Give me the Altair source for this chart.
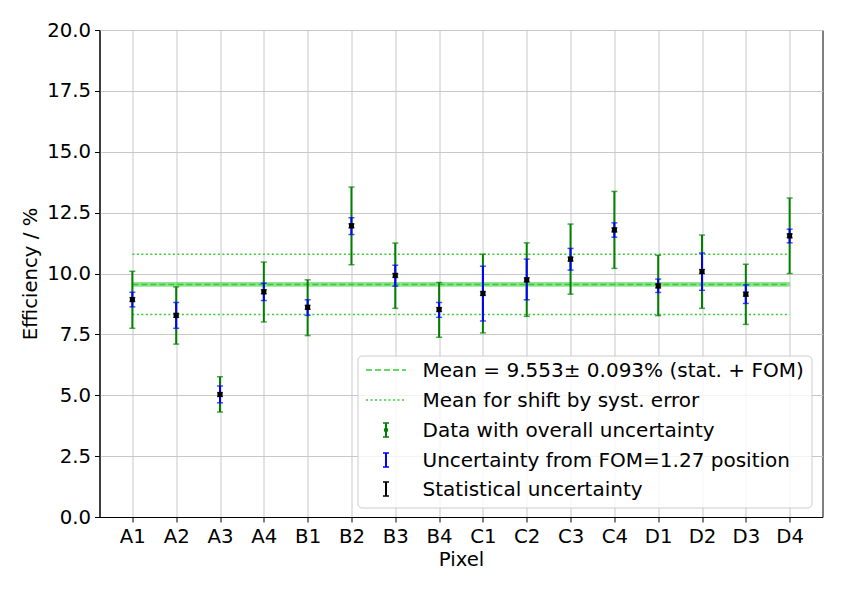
import altair as alt
import pandas as pd

pixels = ["A1", "A2", "A3", "A4", "B1", "B2", "B3", "B4",
          "C1", "C2", "C3", "C4", "D1", "D2", "D3", "D4"]
eff = [8.93, 8.28, 5.03, 9.25, 8.61, 11.96, 9.92, 8.52,
       9.18, 9.74, 10.59, 11.79, 9.49, 10.08, 9.15, 11.55]
tot_lo = [7.75, 7.10, 4.31, 8.01, 7.45, 10.36, 8.57, 7.38,
          7.56, 8.24, 9.15, 10.21, 8.27, 8.57, 7.91, 10.00]
tot_hi = [10.09, 9.45, 5.76, 10.47, 9.74, 13.55, 11.25, 9.63,
          10.79, 11.26, 12.03, 13.37, 10.75, 11.58, 10.38, 13.10]
fom_lo = [8.63, 7.75, 4.69, 8.89, 8.28, 11.60, 9.48, 8.20,
          8.05, 8.92, 10.14, 11.49, 9.22, 9.31, 8.77, 11.26]
fom_hi = [9.23, 8.81, 5.38, 9.60, 8.92, 12.29, 10.34, 8.81,
          10.30, 10.59, 11.03, 12.08, 9.77, 10.84, 9.53, 11.82]
stat_err = [0.08, 0.08, 0.08, 0.08, 0.08, 0.08, 0.08, 0.08,
            0.08, 0.08, 0.08, 0.08, 0.08, 0.08, 0.08, 0.08]

mean_val = 9.553
mean_err = 0.093
syst_hi = 10.79
syst_lo = 8.32

legend_labels = [
    "Mean = 9.553\u00b1 0.093% (stat. + FOM)",
    "Mean for shift by syst. error",
    "Data with overall uncertainty",
    "Uncertainty from FOM=1.27 position",
    "Statistical uncertainty",
]

FONT = "DejaVu Sans"
FS = 19.7
LFS = 20
LIME = "#33cc33"

df = pd.DataFrame({
    "i": list(range(len(pixels))),
    "pixel": pixels,
    "eff": eff,
    "tot_lo": tot_lo,
    "tot_hi": tot_hi,
    "fom_lo": fom_lo,
    "fom_hi": fom_hi,
    "stat_err": stat_err,
})
df["st_lo"] = df["eff"] - df["stat_err"]
df["st_hi"] = df["eff"] + df["stat_err"]

n = len(pixels)
lines = pd.DataFrame({
    "x0": [0, 0, 0],
    "x1": [n - 1, n - 1, n - 1],
    "y": [mean_val, syst_hi, syst_lo],
    "kind": ["mean", "syst", "syst"],
})
band = pd.DataFrame({"x0": [0], "x1": [n - 1],
                     "lo": [mean_val - mean_err], "hi": [mean_val + mean_err]})

label_arr = "[" + ",".join("'" + p + "'" for p in pixels) + "]"
xscale = alt.Scale(domain=[-0.75, n - 0.25], nice=False, zero=False)
yscale = alt.Scale(domain=[0, 20], nice=False)
xax = alt.Axis(values=list(range(n)), labelExpr=label_arr + "[datum.value]",
               title="Pixel", grid=True)
yax = alt.Axis(values=[0, 2.5, 5, 7.5, 10, 12.5, 15, 17.5, 20], format=".1f",
               title="Efficiency / %", grid=True)


def X(f):
    return alt.X(f, type="quantitative", scale=xscale, axis=xax)


def Y(f):
    return alt.Y(f, type="quantitative", scale=yscale, axis=yax)


band_l = alt.Chart(band).mark_rect(color=LIME, opacity=0.55).encode(
    x=X("x0"), x2="x1", y=Y("lo"), y2="hi")
mean_l = alt.Chart(lines[lines.kind == "mean"]).mark_rule(
    color=LIME, strokeWidth=1.5, strokeDash=[6, 3]).encode(
    x=X("x0"), x2="x1", y=Y("y"))
syst_l = alt.Chart(lines[lines.kind == "syst"]).mark_rule(
    color=LIME, strokeWidth=1.5, strokeDash=[2, 2.5]).encode(
    x=X("x0"), x2="x1", y=Y("y"))


def errbar(lo, hi, color, width=2):
    base = alt.Chart(df)
    r = base.mark_rule(color=color, strokeWidth=width).encode(
        x=X("i"), y=Y(lo), y2=hi)
    c1 = base.mark_tick(color=color, orient="horizontal", size=6,
                        thickness=1.5).encode(x=X("i"), y=Y(lo))
    c2 = base.mark_tick(color=color, orient="horizontal", size=6,
                        thickness=1.5).encode(x=X("i"), y=Y(hi))
    return [r, c1, c2]


green_pt = alt.Chart(df).mark_circle(color="green", size=20, opacity=1).encode(
    x=X("i"), y=Y("eff"))
black_pt = alt.Chart(df).mark_square(color="black", size=25, opacity=1).encode(
    x=X("i"), y=Y("eff"))

layers = [band_l, mean_l, syst_l]
layers += errbar("tot_lo", "tot_hi", "green")
layers.append(green_pt)
layers += errbar("fom_lo", "fom_hi", "blue")
layers += errbar("st_lo", "st_hi", "black", 1.5)
layers.append(black_pt)

# legend (manual)
dummy = pd.DataFrame({"a": [0]})
lx0, lx1, ly0, ly1 = 258.5, 712.5, 326, 478
layers.append(alt.Chart(dummy).mark_rect(
    fill="white", fillOpacity=0.8, stroke="#cccccc", strokeWidth=1,
    cornerRadius=4).encode(
    x=alt.value(lx0), x2=alt.value(lx1), y=alt.value(ly0), y2=alt.value(ly1)))

row_y = [340, 370, 400, 430, 459]
sym_x0, sym_x1, sym_xc, txt_x = 266.5, 306.5, 286.5, 323
# line symbols
layers.append(alt.Chart(dummy).mark_rule(color=LIME, strokeWidth=1.5,
                                         strokeDash=[6, 3]).encode(
    x=alt.value(sym_x0), x2=alt.value(sym_x1), y=alt.value(row_y[0])))
layers.append(alt.Chart(dummy).mark_rule(color=LIME, strokeWidth=1.5,
                                         strokeDash=[2, 2.5]).encode(
    x=alt.value(sym_x0), x2=alt.value(sym_x1), y=alt.value(row_y[1])))
for k, col in zip([2, 3, 4], ["green", "blue", "black"]):
    yc = row_y[k]
    layers.append(alt.Chart(dummy).mark_rule(color=col, strokeWidth=2).encode(
        x=alt.value(sym_xc), y=alt.value(yc - 7), y2=alt.value(yc + 7)))
    for yy in (yc - 7, yc + 7):
        layers.append(alt.Chart(dummy).mark_rule(color=col, strokeWidth=1.5).encode(
            x=alt.value(sym_xc - 3), x2=alt.value(sym_xc + 3), y=alt.value(yy)))
layers.append(alt.Chart(dummy).mark_circle(color="green", size=20, opacity=1).encode(
    x=alt.value(sym_xc), y=alt.value(row_y[2])))
for k, lab in enumerate(legend_labels):
    layers.append(alt.Chart(dummy).mark_text(
        align="left", baseline="middle", font=FONT, fontSize=LFS,
        color="black").encode(
        x=alt.value(txt_x), y=alt.value(row_y[k] + 1), text=alt.value(lab)))

chart = alt.layer(*layers).properties(
    width=723, height=487,
    autosize=alt.AutoSizeParams(type="none"),
    padding={"left": 91.5, "top": 22, "right": 16, "bottom": 68},
    background="white",
).configure_view(stroke="black", strokeWidth=1).configure_axis(
    labelFont=FONT, titleFont=FONT, labelFontSize=FS, titleFontSize=FS,
    labelColor="black", titleColor="black", titleFontWeight="normal",
    domainColor="black", domainWidth=1, tickColor="black", tickSize=5,
    tickWidth=1, labelPadding=4, gridColor="#c8c8c8", gridWidth=1,
).configure_axisX(titlePadding=4).configure_axisY(titlePadding=6)

chart.save("out.html", embed_options={"renderer": "svg", "actions": False})
